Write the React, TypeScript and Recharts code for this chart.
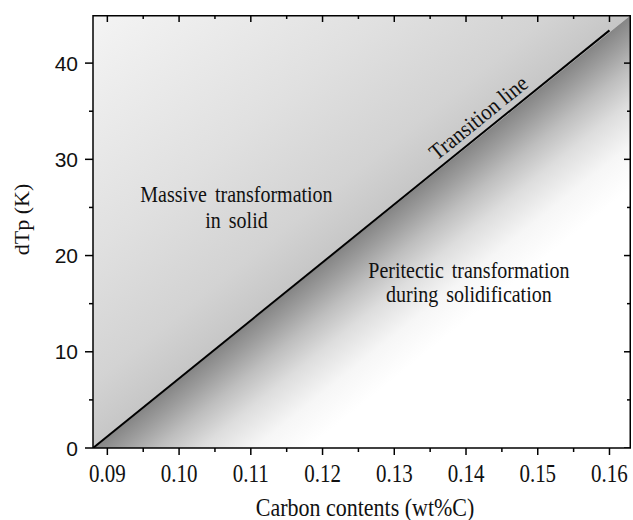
import React from 'react';
import { ComposedChart, Area, Line, Scatter, XAxis, YAxis, ReferenceDot, Label } from 'recharts';

const X_MIN = 0.088;
const X_MAX = 0.163;
const Y_MAX = 45;

// transition line: dTp against carbon content
const lineCarbon = [0.088, 0.16];
const lineDTp = [0, 43.4];

// boundary between the two regions, carried on into the corner
const edgeCarbon = [0.088, 0.163];
const edgeDTp = [0, 45];

// every other tick is a major one with a label
const xTicks = [0.09, 0.095, 0.1, 0.105, 0.11, 0.115, 0.12, 0.125, 0.13, 0.135, 0.14, 0.145, 0.15, 0.155, 0.16];
const xLabels = ['0.09', '0.10', '0.11', '0.12', '0.13', '0.14', '0.15', '0.16'];
const yTicks = [0, 5, 10, 15, 20, 25, 30, 35, 40];
const yLabels = ['0', '10', '20', '30', '40'];

const lineRows = lineCarbon.map((c, i) => ({ c, dTp: lineDTp[i] }));
const edgeRows = edgeCarbon.map((c, i) => ({ c, dTp: edgeDTp[i] }));
// mirrored tick positions on the top and right edges
const topRows = xTicks.map((c, i) => ({ c, dTp: Y_MAX, major: i % 2 === 0 }));
const rightRows = yTicks.map((v, i) => ({ c: X_MAX, dTp: v, major: i % 2 === 0 }));
// top and right sides of the frame
const topEdge = [{ c: X_MIN, dTp: Y_MAX }, { c: X_MAX, dTp: Y_MAX }];
const rightEdge = [{ c: X_MAX, dTp: 0 }, { c: X_MAX, dTp: Y_MAX }];

const SERIF = '"Liberation Serif", "Times New Roman", serif';
const SANS = '"Liberation Sans", Arial, sans-serif';
const INK = '#111';
const MAJOR = 7;
const MINOR = 4;
const FRAME = { stroke: '#000', strokeWidth: 1.5 };

const BottomTick = ({ x, y, payload }: any) => {
    const i = xTicks.indexOf(payload.value);
    const major = i % 2 === 0;
    return (
        <g>
            <line x1={x} y1={y} x2={x} y2={y + (major ? MAJOR : MINOR)} stroke="#000" strokeWidth={1.5} />
            {major && (
                <text
                    transform={`translate(${x},${y + 34}) scale(1,1.15)`}
                    textAnchor="middle"
                    fontFamily={SERIF}
                    fontSize={21}
                    fill={INK}
                >
                    {xLabels[i / 2]}
                </text>
            )}
        </g>
    );
};

const LeftTick = ({ x, y, payload }: any) => {
    const i = yTicks.indexOf(payload.value);
    const major = i % 2 === 0;
    return (
        <g>
            <line x1={x} y1={y} x2={x - (major ? MAJOR + 1 : MINOR)} y2={y} stroke="#000" strokeWidth={1.5} />
            {major && (
                <text x={x - 15} y={y} dy="0.36em" textAnchor="end" fontFamily={SANS} fontSize={21} fill={INK}>
                    {yLabels[i / 2]}
                </text>
            )}
        </g>
    );
};

// top and right ticks point into the plot
const TopMark = (p: any) => (
    <line x1={p.cx} y1={p.cy} x2={p.cx} y2={p.cy + (p.payload.major ? MAJOR : MINOR)} stroke="#000" strokeWidth={1.5} />
);

const RightMark = (p: any) => (
    <line x1={p.cx} y1={p.cy} x2={p.cx - (p.payload.major ? MAJOR : MINOR)} y2={p.cy} stroke="#000" strokeWidth={1.5} />
);

// two-line region note, centred on the dot
const Note = ({ lines, gap }: { lines: string[]; gap: number }) => (props: any) => (
    <g>
        {lines.map((t, k) => (
            <text
                key={t}
                transform={`translate(${props.cx},${props.cy + k * gap}) scale(1,1.12)`}
                textAnchor="middle"
                fontFamily={SERIF}
                fontSize={20}
                fill={INK}
                style={{ wordSpacing: 3 }}
            >
                {t}
            </text>
        ))}
    </g>
);

const TransitionNote = (props: any) => (
    <text
        transform={`translate(${props.cx},${props.cy}) rotate(-39) translate(0,-7) scale(1,1.1)`}
        textAnchor="middle"
        fontFamily={SERIF}
        fontSize={20.5}
        fill={INK}
    >
        Transition line
    </text>
);

export default function App() {
    return (
        <div style={{ position: 'absolute', left: 0, top: 0 }}>
            <ComposedChart width={633} height={520} margin={{ top: 15, right: 2, bottom: 0, left: 0 }}>
                <defs>
                    <linearGradient id="massive" x1="0" y1="0" x2="0.5" y2="0.5">
                        <stop offset="0" stopColor="#f4f4f4" />
                        <stop offset="0.55" stopColor="#e0e0e0" />
                        <stop offset="0.85" stopColor="#d3d3d3" />
                        <stop offset="1" stopColor="#c6c6c6" />
                    </linearGradient>
                    <linearGradient id="peritectic" x1="0.5" y1="0.5" x2="1" y2="1">
                        <stop offset="0" stopColor="#858585" />
                        <stop offset="0.05" stopColor="#9c9c9c" />
                        <stop offset="0.12" stopColor="#bebebe" />
                        <stop offset="0.2" stopColor="#dddddd" />
                        <stop offset="0.3" stopColor="#f6f6f6" />
                        <stop offset="0.4" stopColor="#ffffff" />
                    </linearGradient>
                </defs>

                <XAxis
                    type="number"
                    dataKey="c"
                    domain={[X_MIN, X_MAX]}
                    allowDataOverflow
                    ticks={xTicks}
                    interval={0}
                    height={72}
                    tickSize={0}
                    tickMargin={0}
                    tickLine={false}
                    tick={BottomTick}
                    axisLine={FRAME}
                >
                    <Label
                        content={({ viewBox }: any) => (
                            <text
                                transform={`translate(${viewBox.x + viewBox.width / 2 + 3},${viewBox.y + 68}) scale(1,1.15)`}
                                textAnchor="middle"
                                fontFamily={SERIF}
                                fontSize={22}
                                fill={INK}
                            >
                                Carbon contents (wt%C)
                            </text>
                        )}
                    />
                </XAxis>
                <YAxis
                    type="number"
                    domain={[0, Y_MAX]}
                    allowDataOverflow
                    ticks={yTicks}
                    interval={0}
                    width={93}
                    tickSize={0}
                    tickMargin={0}
                    tickLine={false}
                    tick={LeftTick}
                    axisLine={FRAME}
                >
                    <Label
                        content={({ viewBox }: any) => (
                            <text
                                transform={`translate(${viewBox.x + 29},${viewBox.y + viewBox.height / 2 - 12}) rotate(-90) scale(1.1,1)`}
                                textAnchor="middle"
                                fontFamily={SERIF}
                                fontSize={20}
                                fill={INK}
                            >
                                dTp (K)
                            </text>
                        )}
                    />
                </YAxis>

                {/* massive transformation region, above the boundary */}
                <Area
                    data={edgeRows}
                    dataKey={(d: any) => [d.dTp, Y_MAX]}
                    type="linear"
                    fill="url(#massive)"
                    fillOpacity={1}
                    stroke="none"
                    isAnimationActive={false}
                />
                {/* peritectic region, below the boundary */}
                <Area
                    data={edgeRows}
                    dataKey="dTp"
                    type="linear"
                    fill="url(#peritectic)"
                    fillOpacity={1}
                    stroke="none"
                    isAnimationActive={false}
                />
                <Line
                    data={lineRows}
                    dataKey="dTp"
                    type="linear"
                    stroke="#000"
                    strokeWidth={2}
                    dot={false}
                    isAnimationActive={false}
                />

                {/* top and right frame, half of each stroke is clipped at the plot edge */}
                <Line data={topEdge} dataKey="dTp" type="linear" stroke="#000" strokeWidth={3} dot={false} isAnimationActive={false} />
                <Line data={rightEdge} dataKey="dTp" type="linear" stroke="#000" strokeWidth={3} dot={false} isAnimationActive={false} />

                <Scatter data={topRows} dataKey="dTp" shape={TopMark} isAnimationActive={false} />
                <Scatter data={rightRows} dataKey="dTp" shape={RightMark} isAnimationActive={false} />

                <ReferenceDot x={0.108} y={25.6} r={0} shape={Note({ lines: ['Massive transformation', 'in solid'], gap: 26 })} />
                <ReferenceDot x={0.1404} y={17.7} r={0} shape={Note({ lines: ['Peritectic transformation', 'during solidification'], gap: 24 })} />
                <ReferenceDot x={0.143} y={33.15} r={0} shape={TransitionNote} />
            </ComposedChart>
        </div>
    );
}
